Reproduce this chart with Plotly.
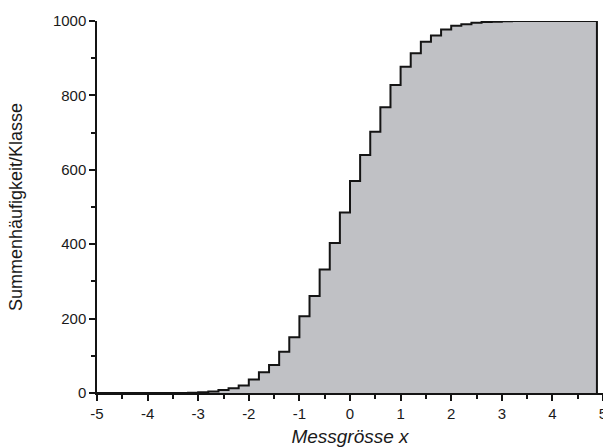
import plotly.graph_objects as go

# Class lower edges (class width 0.2) and cumulative frequency per class
class_start = [-5.0, -4.8, -4.6, -4.4, -4.2, -4.0, -3.8, -3.6, -3.4,
               -3.2, -3.0, -2.8, -2.6, -2.4, -2.2, -2.0, -1.8, -1.6, -1.4,
               -1.2, -1.0, -0.8, -0.6, -0.4, -0.2, 0.0, 0.2, 0.4, 0.6,
               0.8, 1.0, 1.2, 1.4, 1.6, 1.8, 2.0, 2.2, 2.4, 2.6, 2.8, 3.0,
               3.2, 3.4, 3.6, 3.8, 4.0, 4.2, 4.4, 4.6, 4.8]
cum_freq = [0, 0, 0, 0, 0, 0, 0, 0, 0,
            1, 2, 4, 8, 13, 20, 36, 56, 75, 111,
            150, 206, 261, 332, 403, 485, 570, 640, 702, 768,
            828, 877, 913, 944, 961, 977, 987, 991, 995, 997, 998, 999,
            1000, 1000, 1000, 1000, 1000, 1000, 1000, 1000, 1000]
x_end = 4.88

x_ticks = [-5, -4, -3, -2, -1, 0, 1, 2, 3, 4, 5]
y_ticks = [0, 200, 400, 600, 800, 1000]

xs = class_start + [x_end, x_end]
ys = cum_freq + [cum_freq[-1], 0]

fig = go.Figure()
fig.add_trace(go.Scatter(
    x=xs, y=ys, mode="lines", line_shape="hv",
    line=dict(color="#141414", width=2),
    fill="tozeroy", fillcolor="rgb(192,193,197)",
    hoverinfo="skip", showlegend=False, cliponaxis=False,
))

font_family = "Liberation Sans, Arial, sans-serif"
fig.update_layout(
    width=603, height=447,
    margin=dict(l=97, r=0, t=21, b=54),
    paper_bgcolor="white", plot_bgcolor="white",
    font=dict(family=font_family, color="#1a1a1a", size=15),
    xaxis=dict(
        range=[-5, 5], tickvals=x_ticks, ticktext=[str(v) for v in x_ticks],
        ticks="outside", ticklen=6, tickwidth=1.5, tickcolor="#141414",
        minor=dict(dtick=0.5, tick0=-5, ticks="outside", ticklen=4,
                   tickwidth=1.5, tickcolor="#141414", showgrid=False),
        showline=True, linecolor="#141414", linewidth=1.5,
        showgrid=False, zeroline=False,
        tickfont=dict(size=15), ticklabeloverflow="allow",
        title=dict(text="<i>Messgrösse x</i>", font=dict(size=19), standoff=11),
        automargin=False,
    ),
    yaxis=dict(
        range=[0, 1000], tickvals=y_ticks,
        ticks="outside", ticklen=6, tickwidth=1.5, tickcolor="#141414",
        minor=dict(dtick=100, tick0=0, ticks="outside", ticklen=4,
                   tickwidth=1.5, tickcolor="#141414", showgrid=False),
        showline=True, linecolor="#141414", linewidth=1.5,
        showgrid=False, zeroline=False,
        tickfont=dict(size=15), ticklabeloverflow="allow",
        title=dict(text="Summenhäufigkeit/Klasse", font=dict(size=18), standoff=26),
        automargin=False,
    ),
)

fig.write_html("out.html")
